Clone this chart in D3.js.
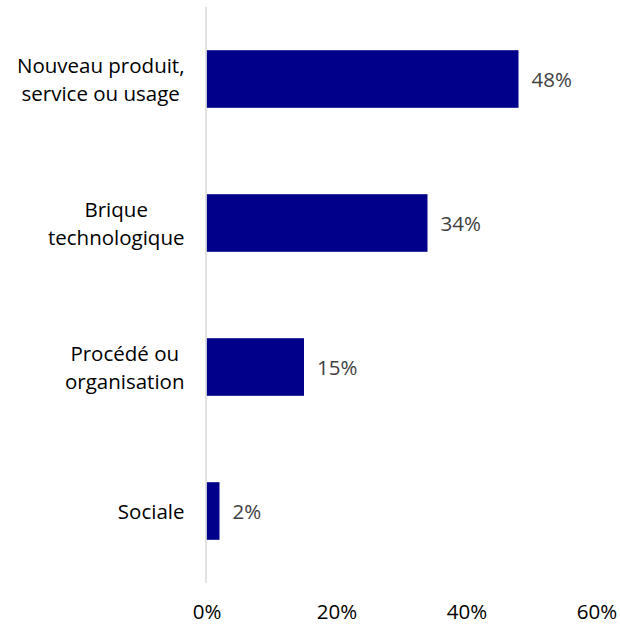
<!DOCTYPE html>
<html>
<head>
<meta charset="utf-8">
<script src="https://cdn.jsdelivr.net/npm/d3@7"></script>
<style>
  html, body { margin: 0; padding: 0; background: #fff; }
  svg { display: block; font-family: "Open Sans", Lato, sans-serif; }
</style>
</head>
<body>
<svg id="chart" width="620" height="627"></svg>
<script>
// Types of innovation, share of projects (%)
const categories = [
  ["Nouveau produit,", "service ou usage"],
  ["Brique", "technologique"],
  ["Procédé ou", "organisation"],
  ["Sociale"]
];
const values = [48, 34, 15, 2];
const tickValues = [0, 20, 40, 60];

const fontSize = 20.5;
const svg = d3.select("#chart");
const plotLeft = 206.5, plotRight = 596.5;
const plotTop = 7, plotBottom = 583;

const x = d3.scaleLinear().domain([0, 60]).range([plotLeft, plotRight]);
const y = d3.scaleBand()
  .domain(d3.range(categories.length))
  .range([plotTop, plotBottom])
  .paddingInner(0.6)
  .paddingOuter(0.3);

// bars
svg.selectAll("rect.bar")
  .data(values)
  .join("rect")
  .attr("class", "bar")
  .attr("x", x(0))
  .attr("y", (d, i) => y(i))
  .attr("width", d => x(d) - x(0))
  .attr("height", y.bandwidth())
  .attr("fill", "#00008B");

// vertical category axis line
svg.append("line")
  .attr("x1", x(0) - 0.5).attr("x2", x(0) - 0.5)
  .attr("y1", plotTop).attr("y2", plotBottom)
  .attr("stroke", "#d9d9d9")
  .attr("stroke-width", 1.5);

// value labels
svg.selectAll("text.value")
  .data(values)
  .join("text")
  .attr("class", "value")
  .attr("x", d => x(d) + 13)
  .attr("y", (d, i) => y(i) + y.bandwidth() / 2)
  .attr("dy", "0.4em")
  .attr("font-size", fontSize)
  .attr("fill", "#404040")
  .text(d => d + "%");

// category labels: each block right-aligned against the axis, lines centred
const lineH = 28.5;
const catG = svg.append("g");
categories.forEach((lines, i) => {
  const g = catG.append("g");
  const cy = y(i) + y.bandwidth() / 2;
  const texts = lines.map((t, k) =>
    g.append("text")
      .attr("font-size", fontSize)
      .attr("fill", "#000")
      .attr("text-anchor", "middle")
      .attr("y", cy + (k - (lines.length - 1) / 2) * lineH)
      .attr("dy", "0.4em")
      .text(t));
  const w = d3.max(texts, t => t.node().getComputedTextLength());
  const cx = x(0) - 22 - w / 2;
  texts.forEach(t => t.attr("x", cx));
});

// x-axis tick labels
const xAxis = d3.axisBottom(x)
  .tickValues(tickValues)
  .tickFormat(d => d + "%")
  .tickSize(0)
  .tickPadding(0);
const ax = svg.append("g")
  .attr("transform", `translate(0, ${plotBottom + 21})`)
  .call(xAxis);
ax.select(".domain").remove();
ax.selectAll("text")
  .attr("font-size", fontSize)
  .attr("font-family", "'Open Sans', Lato, sans-serif")
  .attr("fill", "#000");
</script>
</body>
</html>
